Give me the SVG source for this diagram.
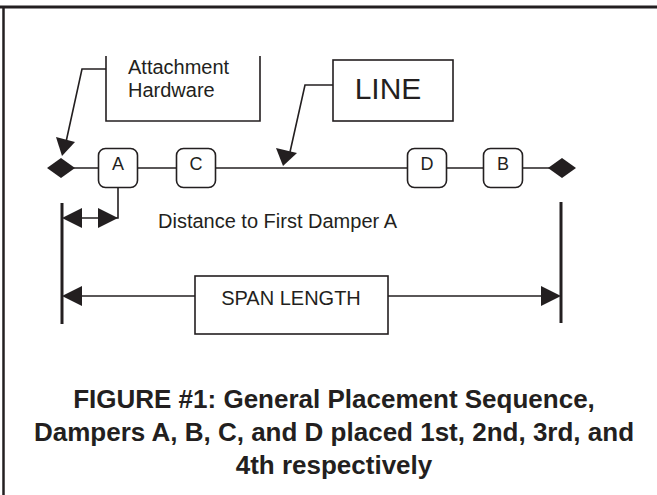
<svg xmlns="http://www.w3.org/2000/svg" width="657" height="495" viewBox="0 0 657 495">
<style>
.ln{stroke:#231f20;stroke-width:1.6;fill:none}
.bar{stroke:#231f20;stroke-width:3;fill:none}
.box{stroke:#231f20;stroke-width:1.6;fill:#fff}
.ah{fill:#231f20;stroke:none}
.t{font-family:"Liberation Sans",Arial,sans-serif;fill:#231f20}
.cap{font-family:"Liberation Sans",Arial,sans-serif;font-weight:bold;font-size:26px;fill:#231f20}
</style>
<rect width="657" height="495" fill="#fff"/>
<g id="frame">
<line x1="0" y1="7" x2="657" y2="7" stroke="#231f20" stroke-width="3"/>
<line x1="3.5" y1="6" x2="3.5" y2="495" stroke="#231f20" stroke-width="2.5"/>
</g>
<g id="connectors">
<line class="ln" x1="61" y1="168" x2="562" y2="168"/>
<polyline class="ln" points="106,69 82,69 66,142"/>
<polygon class="ah" points="62,156 56,137 75,142"/>
<polyline class="ln" points="333,85 305,85 290,152"/>
<polygon class="ah" points="283,166 276,148 297,153"/>
<polyline class="ln" points="118,178 118,218 72,218"/>
<polygon class="ah" points="62,218 82,208 82,228"/>
<polygon class="ah" points="118,218 98,208 98,228"/>
<line class="bar" x1="62" y1="203" x2="62" y2="324"/>
<line class="bar" x1="561" y1="202" x2="561" y2="323"/>
<line class="ln" x1="70" y1="296" x2="195" y2="296"/>
<line class="ln" x1="388" y1="296" x2="552" y2="296"/>
<polygon class="ah" points="62,296 82,286 82,306"/>
<polygon class="ah" points="561,296 541,286 541,306"/>
</g>
<g id="end-left"><polygon class="ah" points="47,168 61,158 75,168 61,178"/></g>
<g id="end-right"><polygon class="ah" points="548,168 562,158 576,168 562,178"/></g>
<g id="attachment-hardware">
<polyline class="ln" points="106,56 106,121 260,121 260,56"/>
<text class="t" x="128" y="74" font-size="20">Attachment</text>
<text class="t" x="128" y="97" font-size="20">Hardware</text>
</g>
<g id="line-label">
<rect class="box" x="333" y="60" width="120" height="61"/>
<text class="t" x="388" y="99" font-size="30" text-anchor="middle">LINE</text>
</g>
<g id="damper-a">
<rect class="box" x="98.5" y="148.5" width="39" height="39" rx="7"/>
<text class="t" x="118" y="170" font-size="18" text-anchor="middle">A</text>
</g>
<g id="damper-c">
<rect class="box" x="176.5" y="148.5" width="39" height="39" rx="7"/>
<text class="t" x="196" y="170" font-size="18" text-anchor="middle">C</text>
</g>
<g id="damper-d">
<rect class="box" x="407.5" y="148.5" width="39" height="39" rx="7"/>
<text class="t" x="427" y="170" font-size="18" text-anchor="middle">D</text>
</g>
<g id="damper-b">
<rect class="box" x="483.5" y="148.5" width="39" height="39" rx="7"/>
<text class="t" x="503" y="170" font-size="18" text-anchor="middle">B</text>
</g>
<g id="distance-label">
<text class="t" x="158" y="228" font-size="20">Distance to First Damper A</text>
</g>
<g id="span-length">
<rect class="box" x="195" y="276" width="193" height="58"/>
<text class="t" x="291" y="305" font-size="20" text-anchor="middle">SPAN LENGTH</text>
</g>
<g id="caption">
<text class="cap" x="334" y="408" text-anchor="middle">FIGURE #1: General Placement Sequence,</text>
<text class="cap" x="334" y="441" text-anchor="middle">Dampers A, B, C, and D placed 1st, 2nd, 3rd, and</text>
<text class="cap" x="334" y="474" text-anchor="middle">4th respectively</text>
</g>
</svg>
